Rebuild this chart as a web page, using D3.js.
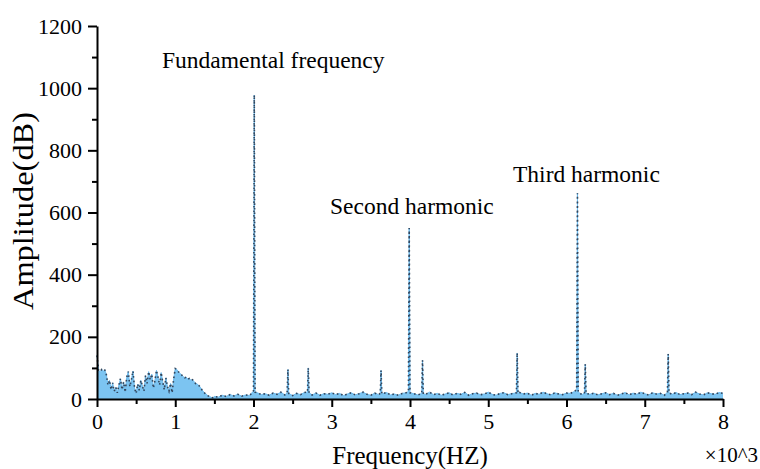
<!DOCTYPE html>
<html lang="en">

<head>
    <meta charset="UTF-8">
    <title>Spectrum</title>
    <script src="https://d3js.org/d3.v7.min.js"></script>
    <style>
        body {
            margin: 0;
            background: #fff;
        }

        svg text {
            font-family: "Liberation Serif", "Times New Roman", serif;
            fill: #000;
        }

        .axis path,
        .axis line {
            stroke: #000;
        }
    </style>
</head>

<body>
    <script>

        // amplitude below 1.5 kHz, one value every 0.02 (x10^3 Hz)
        const lowAmp = [
            140, 92, 88, 95, 90, 93, 78, 45, 60, 30,
            52, 25, 38, 20, 45, 65, 30, 55, 22, 70,
            88, 40, 62, 90, 35, 18, 48, 28, 60, 42,
            25, 75, 50, 88, 62, 80, 35, 58, 92, 70,
            45, 85, 55, 30, 68, 40, 25, 50, 20, 65,
            98, 95, 88, 82, 78, 72, 68, 70, 64, 66,
            60, 62, 56, 50, 48, 44, 38, 30, 24, 18,
            15, 10, 8, 5, 4, 8
        ];

        // noise floor from 1.55 to 8, one value every 0.05
        const floorAmp = [
            6, 12, 8, 14, 10, 15, 9, 13, 11, 18,
            20, 14, 17, 12, 19, 15, 22, 13, 16, 11,
            18, 14, 21, 16, 13, 19, 12, 17, 15, 20,
            14, 18, 11, 16, 20, 13, 17, 22, 15, 12,
            19, 14, 17, 21, 13, 16, 12, 18, 20, 15,
            17, 13, 19, 15, 22, 14, 18, 12, 16, 20,
            13, 18, 15, 21, 12, 17, 19, 14, 16, 22,
            15, 12, 18, 20, 14, 17, 13, 21, 16, 19,
            12, 18, 15, 22, 17, 13, 20, 16, 14, 19,
            18, 24, 17, 14, 21, 15, 19, 13, 17, 20,
            14, 18, 12, 16, 21, 13, 19, 15, 22, 17,
            13, 20, 16, 18, 12, 19, 15, 21, 14, 17,
            19, 14, 22, 16, 13, 20, 17, 15, 21, 18
        ];

        // spikes (with their shoulders)
        const spikeFreq = [2.00, 2.01, 2.02, 2.43, 2.44, 2.45, 2.69, 2.70, 2.71, 3.62, 3.63, 3.64,
            3.98, 3.99, 4.00, 4.15, 4.16, 4.17, 5.36, 5.37, 5.38, 6.13, 6.14, 6.15,
            6.23, 6.24, 6.25, 7.29, 7.30, 7.31];
        const spikeAmp = [26, 978, 22, 20, 95, 18, 22, 100, 20, 18, 92, 16,
            24, 550, 20, 18, 125, 16, 20, 148, 18, 30, 662, 22,
            20, 112, 18, 22, 145, 20];

        const xTicks = [0, 1, 2, 3, 4, 5, 6, 7, 8];
        const xMinorTicks = [0.5, 1.5, 2.5, 3.5, 4.5, 5.5, 6.5, 7.5];
        const yTicks = [0, 200, 400, 600, 800, 1000, 1200];
        const yMinorTicks = [100, 300, 500, 700, 900, 1100];

        const annotations = ["Fundamental frequency", "Second harmonic", "Third harmonic"];

        // build the point list
        let points = lowAmp.map((a, i) => ({ f: +(i * 0.02).toFixed(2), a: a }));
        floorAmp.forEach((a, i) => {
            const f = +(1.55 + i * 0.05).toFixed(2);
            const nearSpike = spikeFreq.some(s => Math.abs(s - f) < 0.012);
            if (!nearSpike) points.push({ f: f, a: a });
        });
        spikeFreq.forEach((f, i) => points.push({ f: f, a: spikeAmp[i] }));
        points.sort((p, q) => p.f - q.f);

        const width = 760, height = 469;

        const svg = d3.select("body").append("svg")
            .attr("width", width)
            .attr("height", height);

        const x = d3.scaleLinear().domain([0, 8]).range([97, 723]);
        const y = d3.scaleLinear().domain([0, 1200]).range([399, 26]);

        // area + lines
        const area = d3.area()
            .x(d => x(d.f))
            .y0(y(0))
            .y1(d => y(d.a));

        const line = d3.line()
            .x(d => x(d.f))
            .y(d => y(d.a));

        svg.append("path")
            .datum(points)
            .attr("d", area)
            .attr("fill", "#7cc4f1");

        svg.append("path")
            .datum(points)
            .attr("d", line)
            .attr("fill", "none")
            .attr("stroke", "#6dbbee")
            .attr("stroke-width", 1);

        svg.append("path")
            .datum(points)
            .attr("d", line)
            .attr("fill", "none")
            .attr("stroke", "#33465c")
            .attr("stroke-width", 1.6)
            .attr("stroke-dasharray", "1.6,3");

        // axes
        const yAxis = svg.append("g")
            .attr("class", "axis")
            .attr("transform", "translate(" + x(0) + ",0)")
            .call(d3.axisLeft(y).tickValues(yTicks).tickFormat(d3.format("d"))
                .tickSize(9).tickSizeOuter(0).tickPadding(6));

        svg.append("g")
            .attr("class", "axis")
            .attr("transform", "translate(" + x(0) + ",0)")
            .call(d3.axisLeft(y).tickValues(yMinorTicks).tickSize(5).tickFormat(""))
            .select(".domain").remove();

        const xAxis = svg.append("g")
            .attr("class", "axis")
            .attr("transform", "translate(0," + y(0) + ")")
            .call(d3.axisBottom(x).tickValues(xTicks).tickSize(8).tickSizeOuter(0).tickPadding(6));

        svg.append("g")
            .attr("class", "axis")
            .attr("transform", "translate(0," + y(0) + ")")
            .call(d3.axisBottom(x).tickValues(xMinorTicks).tickSize(5).tickFormat(""))
            .select(".domain").remove();

        svg.selectAll(".axis .domain").attr("stroke-width", 2);
        svg.selectAll(".axis .tick line").attr("stroke-width", 2);

        yAxis.selectAll("text")
            .style("font-size", "22px")
            .style("font-family", "'Liberation Serif', 'Times New Roman', serif");
        xAxis.selectAll("text")
            .style("font-size", "22px")
            .style("font-family", "'Liberation Serif', 'Times New Roman', serif");

        // axis titles
        svg.append("text")
            .attr("transform", "translate(33,211) rotate(-90)")
            .attr("text-anchor", "middle")
            .attr("textLength", 198)
            .attr("lengthAdjust", "spacingAndGlyphs")
            .style("font-size", "30px")
            .text("Amplitude(dB)");

        svg.append("text")
            .attr("x", 410)
            .attr("y", 464)
            .attr("text-anchor", "middle")
            .style("font-size", "25px")
            .text("Frequency(HZ)");

        svg.append("text")
            .attr("x", 758)
            .attr("y", 462)
            .attr("text-anchor", "end")
            .style("font-size", "21px")
            .text("×10^3");

        // peak annotations
        const annoPos = [[162, 68], [330, 214], [513, 182]];
        svg.selectAll(".anno")
            .data(annotations)
            .enter().append("text")
            .attr("class", "anno")
            .attr("x", (d, i) => annoPos[i][0])
            .attr("y", (d, i) => annoPos[i][1])
            .style("font-size", "23.5px")
            .text(d => d);

    </script>

</body>

</html>
